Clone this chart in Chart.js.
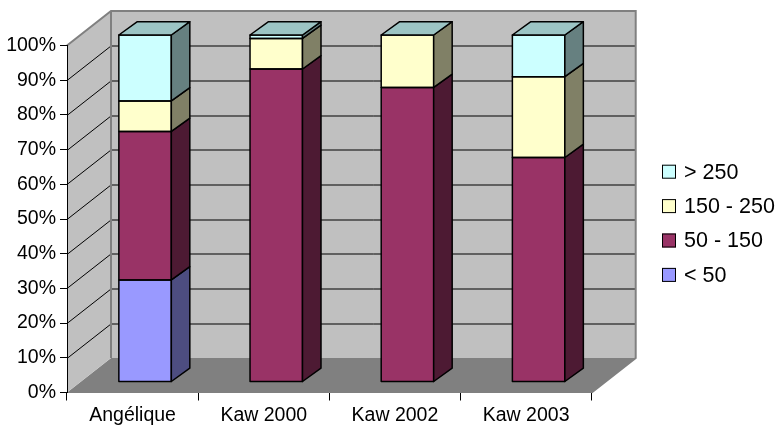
<!DOCTYPE html>
<html>
<head>
<meta charset="utf-8">
<script src="https://cdn.jsdelivr.net/npm/chart.js@4.4.1/dist/chart.umd.min.js"></script>
<style>
  body { margin: 0; background: #fff; }
  canvas { display: block; }
</style>
</head>
<body>
<canvas id="chart" width="779" height="427"></canvas>
<script>
const categories = ['Angélique', 'Kaw 2000', 'Kaw 2002', 'Kaw 2003'];
const seriesNames = ['< 50', '50 - 150', '150 - 250', '> 250'];
const under50 = [29.4, 0, 0, 0];
const from50to150 = [42.8, 90.2, 84.9, 64.7];
const from150to250 = [8.8, 8.8, 15.1, 23.3];
const over250 = [19.0, 1.0, 0, 12.0];
const yTickStep = 10;

const FONT = "'Liberation Sans', Arial, sans-serif";
// front plane of the bars vs. the axis plane, and the depth of bars / walls
const SHIFT = { x: 12.5, y: -10.5 };
const BAR_DEPTH = { x: 18.5, y: -13.3 };
const WALL_DEPTH = { x: 44, y: -34.5 };

const walls3d = {
    id: 'walls3d',
    beforeDraw(chart) {
        const ctx = chart.ctx;
        const a = chart.chartArea;
        const yScale = chart.scales.y;
        const dx = WALL_DEPTH.x, dy = WALL_DEPTH.y;
        const y0 = yScale.getPixelForValue(0);
        const y100 = yScale.getPixelForValue(100);

        ctx.save();
        // floor
        ctx.fillStyle = '#808080';
        ctx.beginPath();
        ctx.moveTo(a.left, y0);
        ctx.lineTo(a.right, y0);
        ctx.lineTo(a.right + dx, y0 + dy);
        ctx.lineTo(a.left + dx, y0 + dy);
        ctx.closePath();
        ctx.fill();
        // back wall
        ctx.fillStyle = '#c0c0c0';
        ctx.fillRect(a.left + dx, y100 + dy, a.right - a.left, y0 - y100);
        // side wall
        ctx.beginPath();
        ctx.moveTo(a.left, y0);
        ctx.lineTo(a.left + dx, y0 + dy);
        ctx.lineTo(a.left + dx, y100 + dy);
        ctx.lineTo(a.left, y100);
        ctx.closePath();
        ctx.fill();

        // gridlines
        ctx.strokeStyle = '#000';
        ctx.lineWidth = 1;
        for (let v = yTickStep; v < 100; v += yTickStep) {
            const py = Math.round(yScale.getPixelForValue(v)) + 0.5;
            ctx.beginPath();
            ctx.moveTo(a.left, py);
            ctx.lineTo(a.left + dx, py + dy);
            ctx.lineTo(a.right + dx, py + dy);
            ctx.stroke();
        }

        // wall edges
        ctx.strokeStyle = '#808080';
        ctx.lineWidth = 2;
        ctx.beginPath();
        ctx.moveTo(a.left, y100);
        ctx.lineTo(a.left + dx, y100 + dy);
        ctx.lineTo(a.right + dx, y100 + dy);
        ctx.lineTo(a.right + dx, y0 + dy);
        ctx.lineTo(a.right, y0);
        ctx.moveTo(a.left + dx, y100 + dy);
        ctx.lineTo(a.left + dx, y0 + dy);
        ctx.stroke();
        ctx.restore();
    },
    beforeDatasetsDraw(chart) {
        chart.ctx.save();
        chart.ctx.translate(SHIFT.x, SHIFT.y);
    },
    afterDatasetsDraw(chart) {
        const ctx = chart.ctx;
        const dx = BAR_DEPTH.x, dy = BAR_DEPTH.y;
        ctx.lineWidth = 1.5;
        ctx.strokeStyle = '#000';
        ctx.lineJoin = 'round';

        chart.data.datasets.forEach((ds, di) => {
            const meta = chart.getDatasetMeta(di);
            meta.data.forEach(bar => {
                const p = bar.getProps(['x', 'y', 'base', 'width'], true);
                if (Math.abs(p.base - p.y) < 0.01) return;
                const l = p.x - p.width / 2, r = p.x + p.width / 2;
                // front outline
                ctx.strokeRect(l, p.y, p.width, p.base - p.y);
                // side face
                ctx.fillStyle = ds.sideColor;
                ctx.beginPath();
                ctx.moveTo(r, p.y);
                ctx.lineTo(r + dx, p.y + dy);
                ctx.lineTo(r + dx, p.base + dy);
                ctx.lineTo(r, p.base);
                ctx.closePath();
                ctx.fill();
                ctx.stroke();
            });
        });

        const lastIndex = chart.data.datasets.length - 1;
        const topDs = chart.data.datasets[lastIndex];
        chart.getDatasetMeta(lastIndex).data.forEach(bar => {
            const p = bar.getProps(['x', 'y', 'width'], true);
            const l = p.x - p.width / 2, r = p.x + p.width / 2;
            ctx.fillStyle = topDs.topColor;
            ctx.beginPath();
            ctx.moveTo(l, p.y);
            ctx.lineTo(l + dx, p.y + dy);
            ctx.lineTo(r + dx, p.y + dy);
            ctx.lineTo(r, p.y);
            ctx.closePath();
            ctx.fill();
            ctx.stroke();
        });
        ctx.restore();
    },
    afterDraw(chart) {
        // legend, top series first
        const ctx = chart.ctx;
        const items = chart.data.datasets.slice().reverse();
        ctx.save();
        ctx.font = '21.5px ' + FONT;
        ctx.textBaseline = 'middle';
        ctx.textAlign = 'left';
        items.forEach((ds, i) => {
            const cy = 171.7 + i * 34.4;
            ctx.fillStyle = ds.backgroundColor;
            ctx.fillRect(662, cy - 7, 14, 14);
            ctx.strokeStyle = '#000';
            ctx.lineWidth = 1;
            ctx.strokeRect(662.5, cy - 6.5, 13, 13);
            ctx.fillStyle = '#000';
            ctx.fillText(ds.label, 684, cy + 1);
        });
        ctx.restore();
    }
};

function series(label, data, front, side, top) {
    return {
        label: label,
        data: data,
        backgroundColor: front,
        sideColor: side,
        topColor: top,
        borderWidth: 0,
        categoryPercentage: 1,
        barPercentage: 0.4,
        clip: false
    };
}

new Chart(document.getElementById('chart'), {
    type: 'bar',
    data: {
        labels: categories,
        datasets: [
            series(seriesNames[0], under50, '#9999ff', '#4d4d80', '#7373bf'),
            series(seriesNames[1], from50to150, '#993366', '#4d1a33', '#73264d'),
            series(seriesNames[2], from150to250, '#ffffcc', '#808066', '#bfbf99'),
            series(seriesNames[3], over250, '#ccffff', '#668080', '#9cc4c4')
        ]
    },
    options: {
        responsive: false,
        animation: false,
        layout: {
            padding: { top: 45.5, right: 187.3, left: 0, bottom: 0 }
        },
        plugins: {
            legend: { display: false },
            tooltip: { enabled: false }
        },
        scales: {
            x: {
                stacked: true,
                afterFit: function(scale) { scale.height = 34.5; },
                border: { display: true, color: '#808080', width: 1 },
                grid: {
                    drawOnChartArea: false,
                    tickLength: 8,
                    color: '#000'
                },
                ticks: {
                    color: '#000',
                    padding: 3,
                    font: { family: FONT, size: 19.5 }
                }
            },
            y: {
                stacked: true,
                min: 0,
                max: 100,
                afterFit: function(scale) { scale.width = 67; },
                border: { display: true, color: '#000', width: 1 },
                grid: {
                    drawOnChartArea: false,
                    tickLength: 7,
                    color: '#000'
                },
                ticks: {
                    stepSize: yTickStep,
                    color: '#000',
                    padding: 4,
                    font: { family: FONT, size: 19.5 },
                    callback: function(value) { return value + '%'; }
                }
            }
        }
    },
    plugins: [walls3d]
});
</script>
</body>
</html>
